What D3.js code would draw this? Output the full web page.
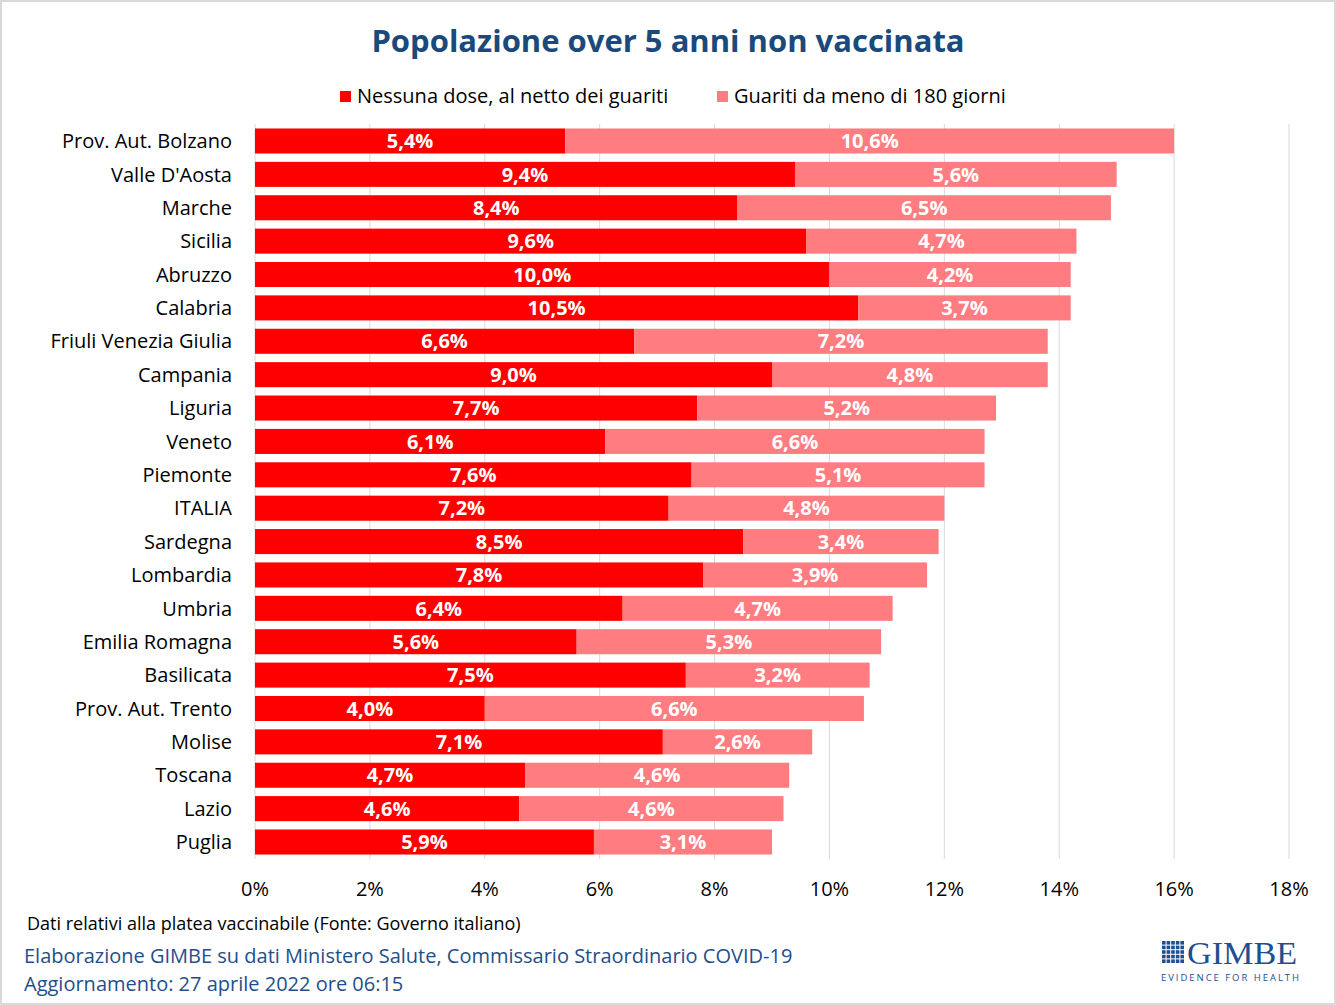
<!DOCTYPE html>
<html>
<head>
<meta charset="utf-8">
<title>Popolazione over 5 anni non vaccinata</title>
<script src="https://d3js.org/d3.v7.min.js"></script>
<style>
  body { margin: 0; background: #fff; }
  svg { display: block; font-family: "Open Sans", "Noto Sans", sans-serif; }
</style>
</head>
<body>
<div id="chart"></div>
<script>
// dati
const regioni = ["Prov. Aut. Bolzano", "Valle D'Aosta", "Marche", "Sicilia", "Abruzzo", "Calabria",
  "Friuli Venezia Giulia", "Campania", "Liguria", "Veneto", "Piemonte", "ITALIA", "Sardegna",
  "Lombardia", "Umbria", "Emilia Romagna", "Basilicata", "Prov. Aut. Trento", "Molise",
  "Toscana", "Lazio", "Puglia"];
const nessunaDose = [5.4, 9.4, 8.4, 9.6, 10.0, 10.5, 6.6, 9.0, 7.7, 6.1, 7.6, 7.2, 8.5, 7.8, 6.4, 5.6, 7.5, 4.0, 7.1, 4.7, 4.6, 5.9];
const guariti = [10.6, 5.6, 6.5, 4.7, 4.2, 3.7, 7.2, 4.8, 5.2, 6.6, 5.1, 4.8, 3.4, 3.9, 4.7, 5.3, 3.2, 6.6, 2.6, 4.6, 4.6, 3.1];
const serie = ["Nessuna dose, al netto dei guariti", "Guariti da meno di 180 giorni"];
const ticks = [0, 2, 4, 6, 8, 10, 12, 14, 16, 18];

const W = 1336, H = 1005;
const colori = ["#ff0000", "#ff7c80"];

const svg = d3.select("#chart").append("svg")
  .attr("width", W).attr("height", H);

// cornice
svg.append("rect").attr("x", 1).attr("y", 1).attr("width", W - 2).attr("height", H - 2)
  .attr("fill", "#fff").attr("stroke", "#d9d9d9").attr("stroke-width", 2);

svg.append("text")
  .attr("x", 668).attr("y", 52)
  .attr("text-anchor", "middle")
  .attr("font-size", 31).attr("font-weight", "bold")
  .attr("fill", "#1a4a7c")
  .text("Popolazione over 5 anni non vaccinata");

const x = d3.scaleLinear().domain([0, 18]).range([255, 1289]);
const y = d3.scaleBand().domain(regioni).range([124.3, 858.7]).paddingInner(0.25).paddingOuter(0.125);

// griglia
svg.append("g").selectAll("line").data(ticks).join("line")
  .attr("x1", d => x(d)).attr("x2", d => x(d))
  .attr("y1", 124).attr("y2", 859)
  .attr("stroke", "#d9d9d9").attr("stroke-width", 1);

const stack = regioni.map((r, i) => ({ r, a: nessunaDose[i], b: guariti[i] }));

const righe = svg.append("g").selectAll("g").data(stack).join("g");
righe.append("rect")
  .attr("x", x(0)).attr("y", d => y(d.r))
  .attr("width", d => x(d.a) - x(0)).attr("height", y.bandwidth())
  .attr("fill", colori[0]);
righe.append("rect")
  .attr("x", d => x(d.a)).attr("y", d => y(d.r))
  .attr("width", d => x(d.a + d.b) - x(d.a)).attr("height", y.bandwidth())
  .attr("fill", colori[1]);

const fmt = v => v.toFixed(1).replace(".", ",") + "%";
righe.append("text")
  .attr("x", d => (x(0) + x(d.a)) / 2).attr("y", d => y(d.r) + y.bandwidth() / 2)
  .attr("dy", "0.36em").attr("text-anchor", "middle")
  .attr("font-size", 20).attr("font-weight", "bold").attr("fill", "#fff")
  .text(d => fmt(d.a));
righe.append("text")
  .attr("x", d => (x(d.a) + x(d.a + d.b)) / 2).attr("y", d => y(d.r) + y.bandwidth() / 2)
  .attr("dy", "0.36em").attr("text-anchor", "middle")
  .attr("font-size", 20).attr("font-weight", "bold").attr("fill", "#fff")
  .text(d => fmt(d.b));

// etichette categorie
svg.append("g").selectAll("text").data(regioni).join("text")
  .attr("x", 232).attr("y", d => y(d) + y.bandwidth() / 2)
  .attr("dy", "0.36em").attr("text-anchor", "end")
  .attr("font-size", 20).attr("fill", "#000")
  .text(d => d);

// asse x
svg.append("g").selectAll("text").data(ticks).join("text")
  .attr("x", d => x(d)).attr("y", 896)
  .attr("text-anchor", "middle")
  .attr("font-size", 20).attr("fill", "#000")
  .text(d => d + "%");

// legenda
const leg = [{ x: 340, t: serie[0], c: colori[0] }, { x: 717, t: serie[1], c: colori[1] }];
const lg = svg.append("g").selectAll("g").data(leg).join("g");
lg.append("rect").attr("x", d => d.x).attr("y", 91).attr("width", 11).attr("height", 11).attr("fill", d => d.c);
lg.append("text").attr("x", d => d.x + 17).attr("y", 103)
  .attr("font-size", 20).attr("fill", "#000").text(d => d.t);

// note
svg.append("text").attr("x", 27).attr("y", 930).attr("font-size", 18).attr("fill", "#000")
  .text("Dati relativi alla platea vaccinabile (Fonte: Governo italiano)");
svg.append("text").attr("x", 24).attr("y", 963).attr("font-size", 20).attr("fill", "#1f4e8c")
  .text("Elaborazione GIMBE su dati Ministero Salute, Commissario Straordinario COVID-19");
svg.append("text").attr("x", 24).attr("y", 991).attr("font-size", 20).attr("fill", "#1f4e8c")
  .text("Aggiornamento: 27 aprile 2022 ore 06:15");

// logo
const logo = svg.append("g");
const celle = d3.range(25);
logo.selectAll("rect").data(celle).join("rect")
  .attr("x", d => 1162 + (d % 5) * 4.6).attr("y", d => 941 + Math.floor(d / 5) * 4.6)
  .attr("width", 3.6).attr("height", 3.6).attr("fill", "#1d4f91");
logo.append("text").attr("x", 1187).attr("y", 964)
  .attr("font-family", "'Liberation Serif', 'DejaVu Serif', serif")
  .attr("font-size", 32).attr("fill", "#1d4f91").attr("textLength", 110)
  .attr("lengthAdjust", "spacingAndGlyphs")
  .text("GIMBE");
logo.append("text").attr("x", 1161).attr("y", 981)
  .attr("font-size", 9.5).attr("fill", "#1d4f91").attr("textLength", 138)
  .text("EVIDENCE FOR HEALTH");
</script>
</body>
</html>
